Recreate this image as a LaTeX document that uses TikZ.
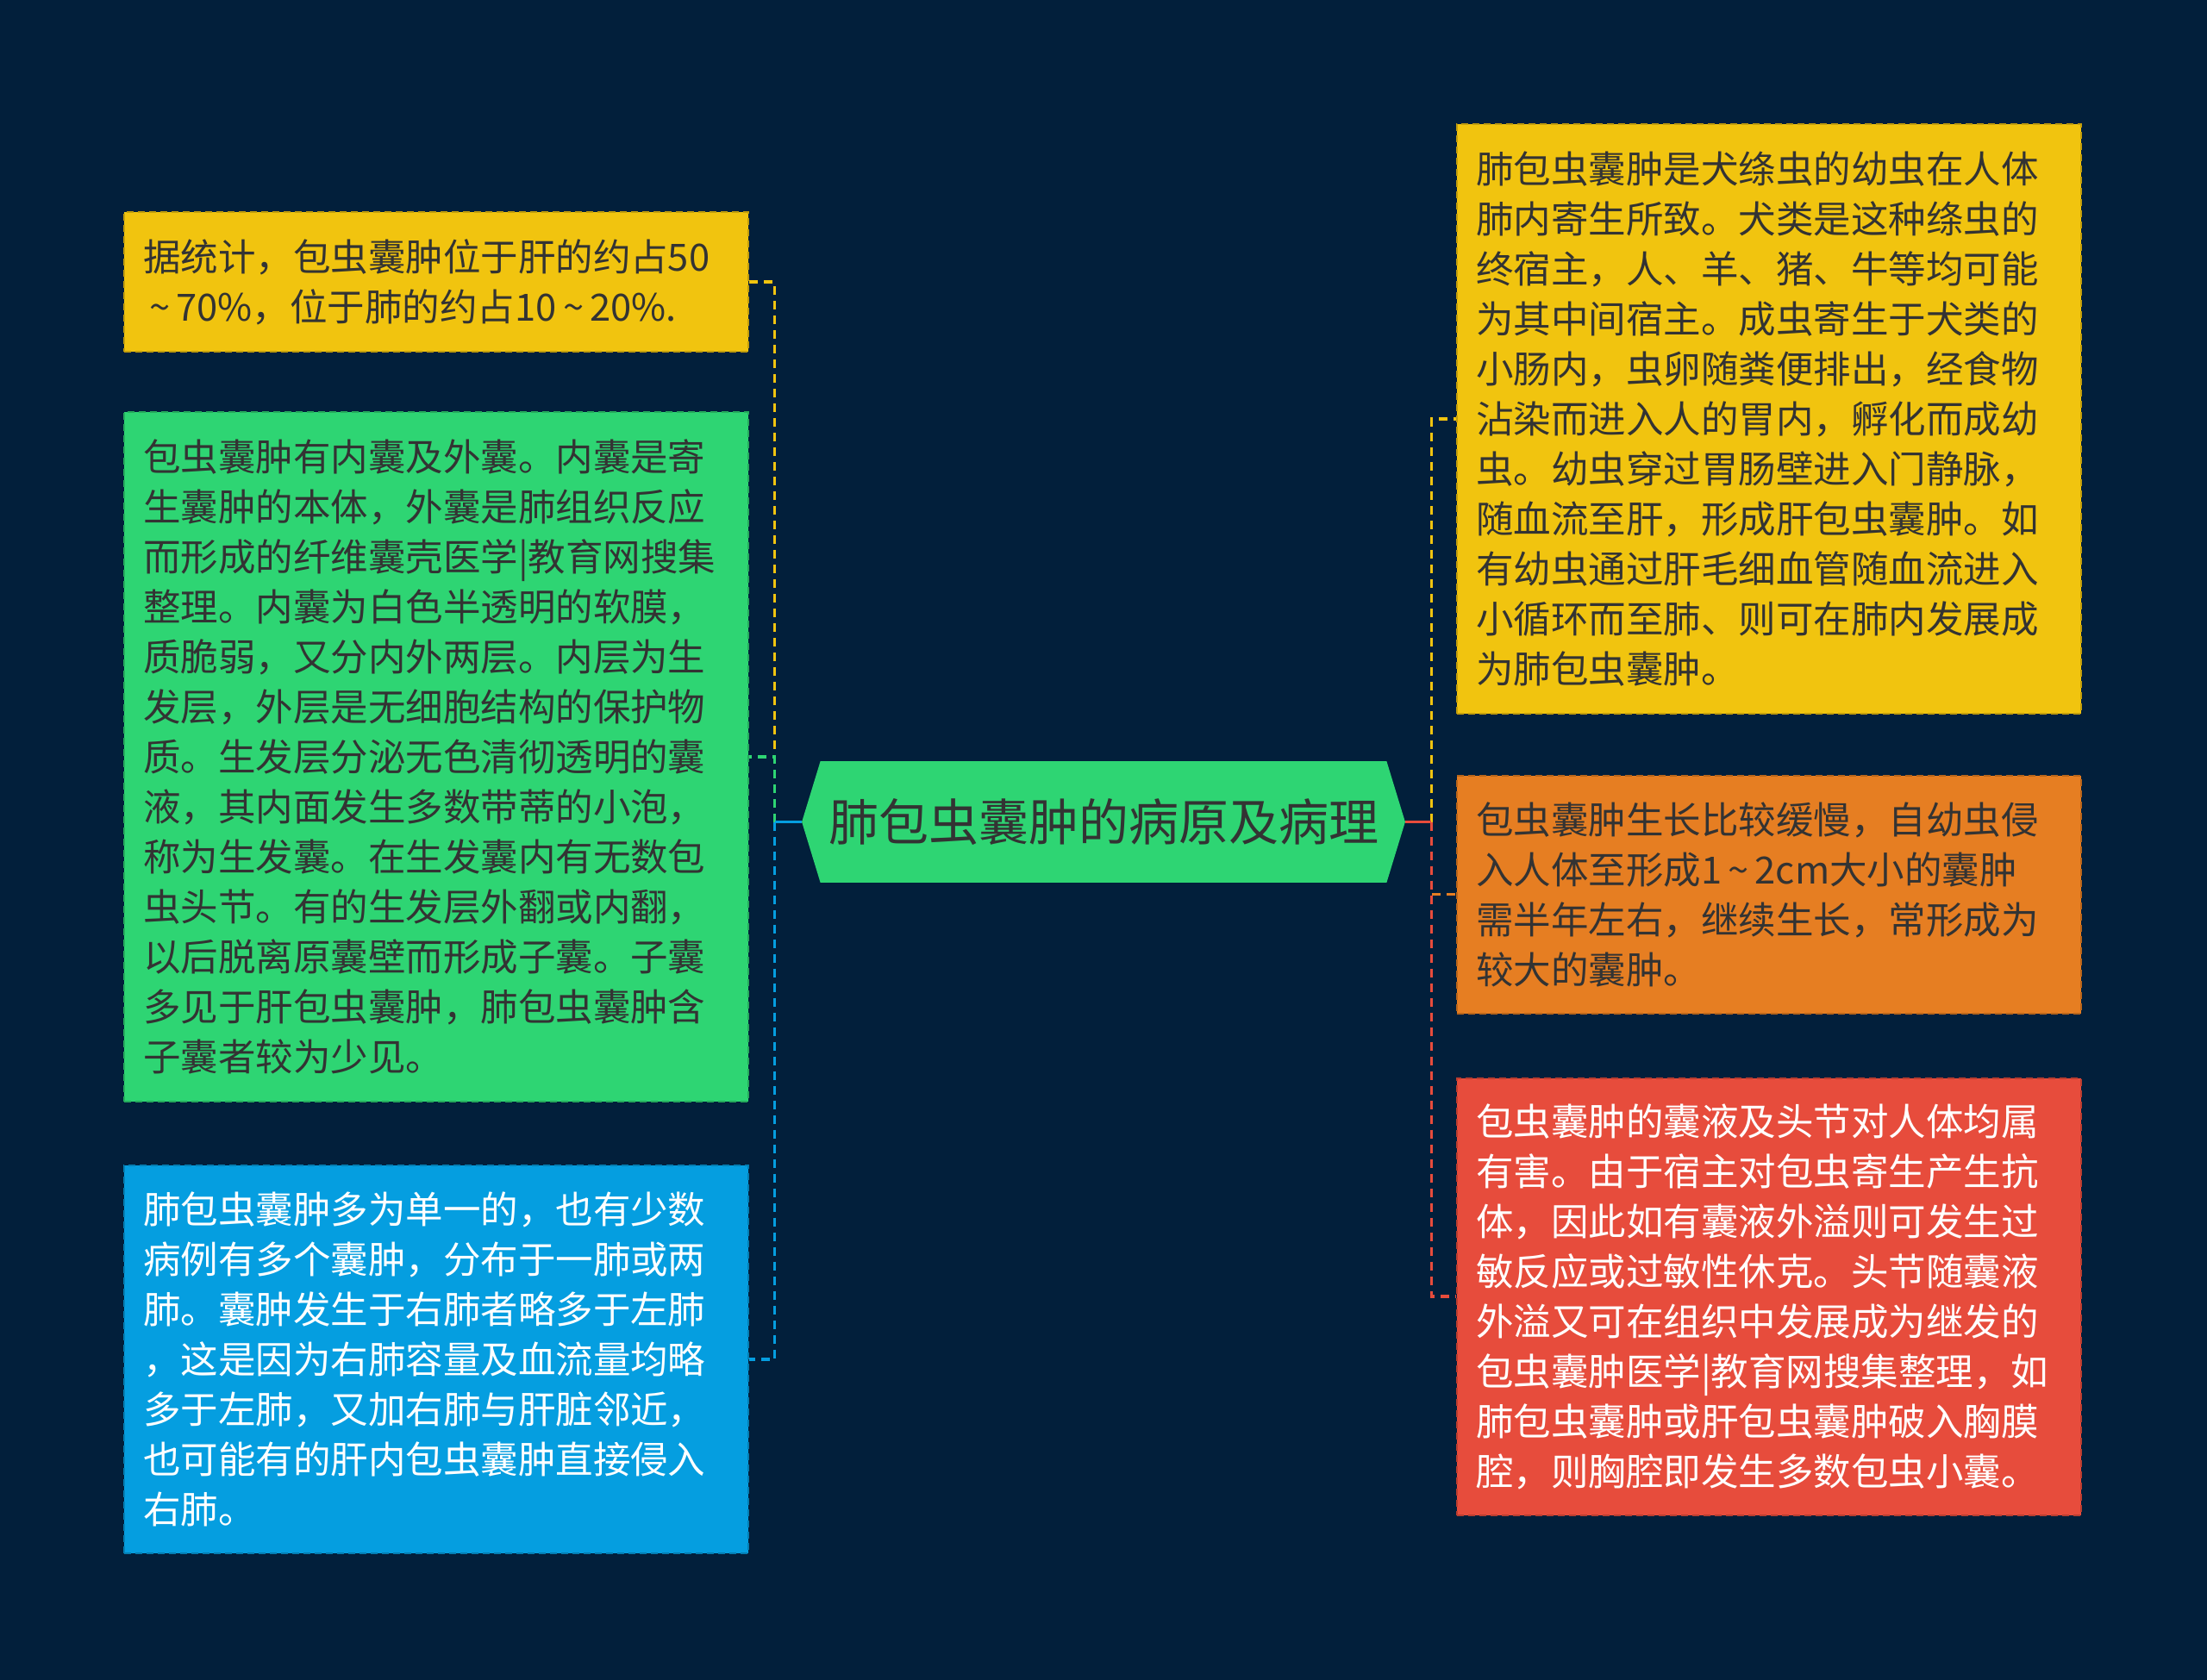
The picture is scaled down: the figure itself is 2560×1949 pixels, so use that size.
\documentclass[tikz,border=0pt]{standalone}
\usepackage{fontspec}
\setmainfont{Noto Sans CJK SC}
\usetikzlibrary{backgrounds}
\definecolor{bg}{HTML}{021F3B}
\definecolor{cyel}{HTML}{F1C40F}
\definecolor{cgrn}{HTML}{2ED573}
\definecolor{cblu}{HTML}{059EE0}
\definecolor{corg}{HTML}{E67E22}
\definecolor{cred}{HTML}{E74C3C}
\definecolor{txt}{HTML}{333333}
\newcommand{\tld}{\,\textasciitilde\,}
\tikzset{
  box/.style={rectangle, inner xsep=11pt, inner ysep=0pt, text width=340pt,
    align=left, minimum width=362pt,
    font=\fontsize{21.75pt}{29pt}\selectfont,
    line width=1pt, dash pattern=on 4pt off 2.5pt},
  link/.style={line width=1.7pt, dash pattern=on 5pt off 3.5pt},
  stub/.style={line width=1.7pt},
}
\begin{document}
\begin{tikzpicture}[x=0.5pt,y=-0.5pt]
\useasboundingbox (0,0) rectangle (2560,1949);
% centre
\node[font=\fontsize{29pt}{34pt}\selectfont, text=txt, minimum width=328pt,
  minimum height=70pt, inner sep=0pt] (c) at (1280,953.5) {肺包虫囊肿的病原及病理};
\coordinate (cl) at ([xshift=-10.75pt]c.west);
\coordinate (cr) at ([xshift=10.75pt]c.east);
\coordinate (bl) at ([xshift=-15.75pt]cl);
\coordinate (br) at ([xshift=15.25pt]cr);
\begin{scope}[on background layer]
  \fill[bg] (0,0) rectangle (2560,1949);
  \fill[cgrn] (c.north west) -- (c.north east) -- (cr) -- (c.south east)
    -- (c.south west) -- (cl) -- cycle;
\end{scope}
% left boxes
\node[box, fill=cyel, draw=cyel!80!black, text=txt, minimum height=81pt] (l1) at (506,327) {%
据统计，包虫囊肿位于肝的约占50\\
\tld 70\%，位于肺的约占10\tld 20\%.};
\node[box, fill=cgrn, draw=cgrn!80!black, text=txt, minimum height=400pt] (l2) at (506,878) {%
包虫囊肿有内囊及外囊。内囊是寄\\
生囊肿的本体，外囊是肺组织反应\\
而形成的纤维囊壳医学|教育网搜集\\
整理。内囊为白色半透明的软膜，\\
质脆弱，又分内外两层。内层为生\\
发层，外层是无细胞结构的保护物\\
质。生发层分泌无色清彻透明的囊\\
液，其内面发生多数带蒂的小泡，\\
称为生发囊。在生发囊内有无数包\\
虫头节。有的生发层外翻或内翻，\\
以后脱离原囊壁而形成子囊。子囊\\
多见于肝包虫囊肿，肺包虫囊肿含\\
子囊者较为少见。};
\node[box, fill=cblu, draw=cblu!80!black, text=white, minimum height=225pt] (l3) at (506,1577) {%
肺包虫囊肿多为单一的，也有少数\\
病例有多个囊肿，分布于一肺或两\\
肺。囊肿发生于右肺者略多于左肺\\
，这是因为右肺容量及血流量均略\\
多于左肺，又加右肺与肝脏邻近，\\
也可能有的肝内包虫囊肿直接侵入\\
右肺。};
% right boxes
\node[box, fill=cyel, draw=cyel!80!black, text=txt, minimum height=342pt] (r1) at (2052,486) {%
肺包虫囊肿是犬绦虫的幼虫在人体\\
肺内寄生所致。犬类是这种绦虫的\\
终宿主，人、羊、猪、牛等均可能\\
为其中间宿主。成虫寄生于犬类的\\
小肠内，虫卵随粪便排出，经食物\\
沾染而进入人的胃内，孵化而成幼\\
虫。幼虫穿过胃肠壁进入门静脉，\\
随血流至肝，形成肝包虫囊肿。如\\
有幼虫通过肝毛细血管随血流进入\\
小循环而至肺、则可在肺内发展成\\
为肺包虫囊肿。};
\node[box, fill=corg, draw=corg!80!black, text=txt, minimum height=138pt] (r2) at (2052,1037.5) {%
包虫囊肿生长比较缓慢，自幼虫侵\\
入人体至形成1\tld 2cm大小的囊肿\\
需半年左右，继续生长，常形成为\\
较大的囊肿。};
\node[box, fill=cred, draw=cred!80!black, text=white, minimum height=253.5pt] (r3) at (2052,1504) {%
包虫囊肿的囊液及头节对人体均属\\
有害。由于宿主对包虫寄生产生抗\\
体，因此如有囊液外溢则可发生过\\
敏反应或过敏性休克。头节随囊液\\
外溢又可在组织中发展成为继发的\\
包虫囊肿医学|教育网搜集整理，如\\
肺包虫囊肿或肝包虫囊肿破入胸膜\\
腔，则胸腔即发生多数包虫小囊。};
% connectors left
\draw[link, cyel] (bl) |- (l1.east);
\draw[link, cgrn] (bl) |- (l2.east);
\draw[link, cblu] (bl) |- (l3.east);
\draw[stub, cblu] (cl) -- (bl);
% connectors right
\draw[link, cyel] (br) |- (r1.west);
\draw[link, corg] (br) |- (r2.west);
\draw[link, cred] (br) |- (r3.west);
\draw[stub, cred] (cr) -- (br);
\end{tikzpicture}
\end{document}
